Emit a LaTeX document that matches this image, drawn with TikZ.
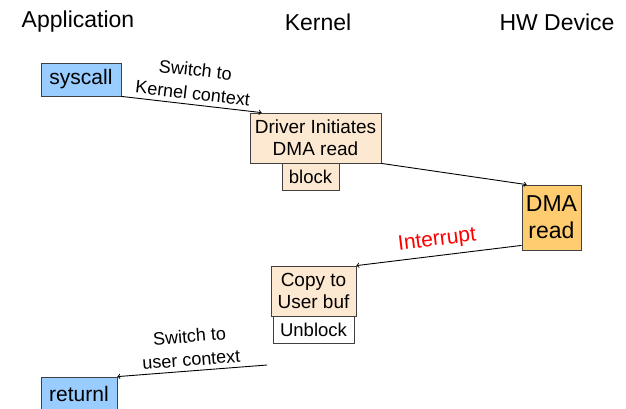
\documentclass[tikz,border=0pt]{standalone}
\usepackage{fontspec}
\setmainfont{Liberation Sans}
\definecolor{userblue}{RGB}{153,204,255}
\definecolor{kpeach}{RGB}{253,233,210}
\definecolor{devorange}{RGB}{255,204,112}
\tikzset{%
  box/.style      = {shape=rectangle, draw=black!75, line width=0.8pt,%
                     align=center, inner sep=0pt},%
  userbox/.style  = {box, fill=userblue, font=\fontsize{21}{24}\selectfont},%
  kbox/.style     = {box, fill=kpeach, font=\fontsize{19}{22}\selectfont},%
  devbox/.style   = {box, fill=devorange, font=\fontsize{23}{27}\selectfont},%
  title/.style    = {font=\fontsize{23}{27}\selectfont},%
  lbl/.style      = {font=\fontsize{18}{23.5}\selectfont, align=center}%
}

\begin{document}
\begin{tikzpicture}[x=1pt,y=-1pt,
		flow/.style = {->, line width=0.9pt}]
		\useasboundingbox (0,0) rectangle (626,408);
		% column titles
		\node[title] (app) at (78,22) {Application};
		\node[title] (ker) at (318,22) {Kernel};
		\node[title] (hw)  at (557,22) {HW Device};
		% boxes
		\node[userbox, minimum width=80pt, minimum height=33pt] (syscall) at (81,79.5) {syscall};
		\node[kbox, minimum width=131pt, minimum height=50pt] (driver) at (315.5,138) {Driver Initiates\\DMA read};
		\node[kbox, minimum width=57pt, minimum height=27pt, font=\fontsize{18.5}{22}\selectfont] (block) at (310.5,176.5) {block};
		\node[devbox, minimum width=59pt, minimum height=65pt] (dma) at (551.5,217.5) {DMA\\read};
		\node[kbox, minimum width=85pt, minimum height=50pt] (copy) at (313.5,291) {Copy to\\User buf};
		\node[kbox, fill=white, minimum width=81pt, minimum height=27pt, font=\fontsize{18.5}{22}\selectfont] (unblock) at (313.5,329.5) {Unblock};
		\node[userbox, minimum width=76pt, minimum height=34pt] (returnl) at (79,394) {returnl};
		\coordinate (uexit) at (267,365);
		% control flow
		\draw[flow] (syscall.south east) -- node[lbl, sloped, above=1pt] {Switch to\\Kernel context} ([xshift=12pt]driver.north west);
		\draw[flow] (driver.south east) -- ([xshift=5pt]dma.north west);
		\draw[flow] ([yshift=5pt]dma.south west) -- node[sloped, above=2pt, text=red, font=\fontsize{21}{25}\selectfont] {Interrupt} (copy.north east);
		\draw[flow] (uexit) -- node[lbl, sloped, above=1pt] {Switch to\\user context} (returnl.north east);
\end{tikzpicture}
\end{document}
